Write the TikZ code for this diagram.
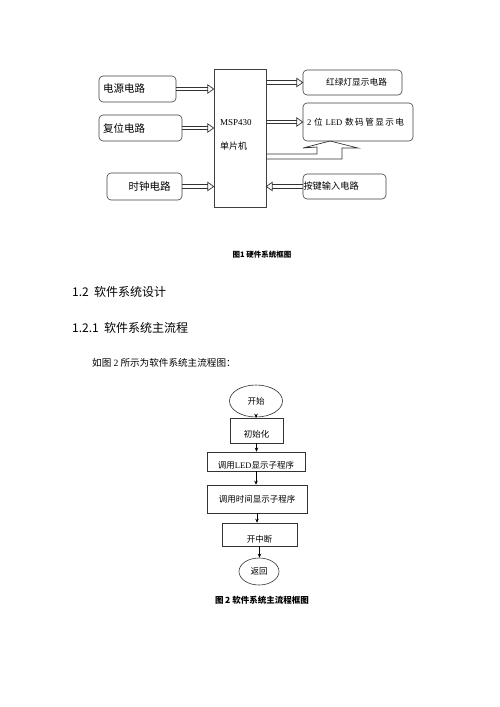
\documentclass[tikz,border=0pt]{standalone}
\usepackage{fontspec}
\setmainfont{Liberation Serif}
\newfontfamily\cjk{Noto Sans CJK SC}
\usetikzlibrary{arrows.meta,shapes.geometric}

\tikzset{
	hwbox/.style={draw=black!75,line width=0.6pt,rounded corners=4pt,inner xsep=4pt,inner ysep=0pt,align=left},
	bus/.style={draw=black!80,line width=0.7pt,line join=miter},
	flowbox/.style={draw=black!80,line width=0.6pt,rectangle,inner sep=0pt,font=\cjk\fontsize{8.5}{10}\selectfont},
	flowend/.style={draw=black!80,line width=0.6pt,ellipse,inner sep=0pt,font=\cjk\fontsize{8.5}{10}\selectfont}
}
% hollow double arrow: from, to, tip length (negative when pointing right)
\newcommand\busarrow[3]{%
	\draw[bus] ([yshift=1.7pt]#1) -- ([xshift=#3,yshift=1.7pt]#2);
	\draw[bus] ([yshift=-1.7pt]#1) -- ([xshift=#3,yshift=-1.7pt]#2);
	\draw[bus] (#2) -- ([xshift=#3,yshift=4.2pt]#2) -- ([xshift=#3,yshift=-4.2pt]#2) -- cycle;
}

\begin{document}
\begin{tikzpicture}[x=1pt,y=-1pt]
	\useasboundingbox[fill=white] (0,0) rectangle (500,707);

	% hardware block diagram
	\begin{scope}[every node/.style={hwbox,font=\cjk\fontsize{10.5}{12}\selectfont}]
	    \node[text width=69pt,minimum height=26pt] (pwr) at (137.5,89) {电源电路};
	    \node[text width=75pt,minimum height=26pt] (rst) at (140.5,128) {复位电路};
	    \node[text width=67pt,minimum height=27pt,align=center] (clk) at (144.5,186.5) {\hspace*{10pt}时钟电路};
	    \node[rounded corners=0pt,minimum width=52pt,minimum height=138pt] (msp) at (240,138) {};
	    \node[font=\cjk\fontsize{8.7}{10}\selectfont,text width=91pt,minimum height=25pt,align=center] (rg) at (352.5,82.5) {\hspace*{8pt}红绿灯显示电路};
	    \node[font=\cjk\fontsize{8.6}{10}\selectfont,text width=102pt,minimum height=38pt] (led) at (358,122)
	        {{\rmfamily 2} 位 {\rmfamily LED} 数\,码\,管\,显\,示\,电};
	    \node[font=\cjk\fontsize{9.2}{10}\selectfont,inner xsep=0.5pt,text width=82pt,minimum height=25pt] (key) at (344.5,186.5) {按键输入电路};
	\end{scope}
	\node[align=left,inner sep=0pt,anchor=west,font=\fontsize{9}{24}\selectfont] (mspname) at (220,135)
	    {MSP430\\{\cjk 单片机}};

	\coordinate (pwrin) at (pwr.east -| msp.west);
	\coordinate (rstin) at (rst.east -| msp.west);
	\coordinate (clkin) at (clk.east -| msp.west);
	\coordinate (rgout) at (msp.east |- rg.west);
	\coordinate (ledout) at (msp.east |- led.west);
	\coordinate (keyin) at (key.west -| msp.east);
	\busarrow{pwr.east}{pwrin}{-6pt}
	\busarrow{rst.east}{rstin}{-6pt}
	\busarrow{clk.east}{clkin}{-6pt}
	\busarrow{rgout}{rg.west}{-6pt}
	\busarrow{ledout}{led.west}{-6pt}
	\busarrow{key.west}{keyin}{6pt}
	\coordinate (ledin) at (330,141);
	\draw[bus] (msp.east |- 0,154) -- (317,154) -- (317,147) -- (303,148) -- (ledin)
	    -- (358,148) -- (342,148) -- (342,159) -- (msp.east |- 0,159);

	\node[font=\cjk\bfseries\fontsize{7.5}{9}\selectfont] (cap1) at (262,255) {图1\ 硬件系统框图};

	% section text
	\begin{scope}[every node/.style={anchor=west,inner sep=0pt}]
	    \node[font=\cjk\fontsize{12}{14}\selectfont] (sec) at (72,292) {1.2\ \ 软件系统设计};
	    \node[font=\cjk\fontsize{12}{14}\selectfont] (subsec) at (72,328) {1.2.1\ \ 软件系统主流程};
	    \node[font=\cjk\fontsize{9.6}{12}\selectfont] (para) at (92,363) {如图 {\rmfamily 2} 所示为软件系统主流程图：};
	\end{scope}

	% software main flow
	\node[flowend,minimum width=53pt,minimum height=32pt] (start) at (256,401) {开始};
	\node[flowbox,minimum width=53pt,minimum height=25pt,text height=14pt] (init) at (256.5,430.5) {初始化};
	\node[flowbox,minimum width=98pt,minimum height=19pt,text height=14pt] (ledsub) at (256,461.5) {调用{\rmfamily LED}显示子程序};
	\node[flowbox,minimum width=100pt,minimum height=28pt] (timesub) at (257,499) {调用时间显示子程序};
	\node[flowbox,minimum width=75pt,minimum height=23pt,text height=16pt] (intr) at (259.5,534.5) {开中断};
	\node[flowend,minimum width=40pt,minimum height=27pt] (ret) at (259,571.5) {返回};

	\begin{scope}[>={Stealth[length=4pt,width=3.5pt]},line width=0.7pt]
	    \draw[->] (start.south) -- (start.south |- init.north);
	    \draw[->] (init.south) -- (init.south |- ledsub.north);
	    \draw[->] (ledsub.south) -- (ledsub.south |- timesub.north);
	    \draw[->] (timesub.south) -- (timesub.south |- intr.north);
	    \draw[->] (intr.south) -- (intr.south |- ret.north);
	\end{scope}

	\node[font=\cjk\bfseries\fontsize{8.5}{10}\selectfont] (cap2) at (262,600) {图\,{2}\ 软件系统主流程框图};
\end{tikzpicture}
\end{document}
